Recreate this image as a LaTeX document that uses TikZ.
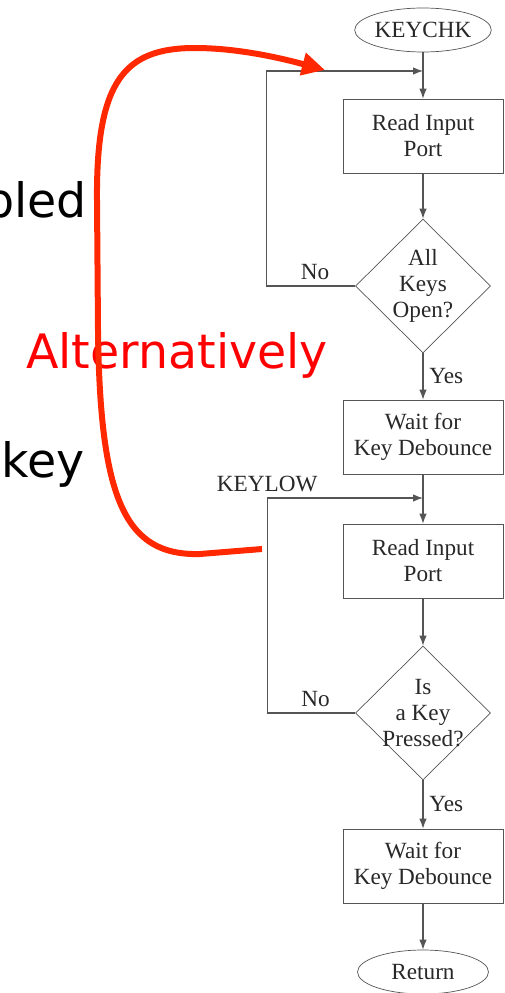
\documentclass[tikz,border=0pt]{standalone}
\usepackage{fontspec}
\setmainfont{Liberation Serif}
\newfontfamily\slidefont{DejaVu Sans}
\usetikzlibrary{shapes.geometric,arrows.meta}
\definecolor{altred}{RGB}{255,40,0}
\definecolor{flowgray}{RGB}{85,85,85}
\definecolor{flowtext}{RGB}{40,40,40}

\begin{document}
\begin{tikzpicture}[x=0.02cm,y=-0.02cm,
			flowfont/.style={text=flowtext, font=\fontsize{13.2}{14.8}\selectfont},
			flowbox/.style={draw=flowgray, flowfont, align=center, minimum width=3.2cm, minimum height=1.48cm, inner sep=0pt},
			terminal/.style={ellipse, draw=flowgray, flowfont, minimum width=2.62cm, minimum height=0.88cm, inner sep=0pt},
			decision/.style={diamond, draw=flowgray, minimum width=2.7cm, minimum height=2.68cm, inner sep=0pt},
			flowlbl/.style={flowfont, align=center},
			flowarrow/.style={draw=flowgray, line width=0.6pt, -{Latex[length=2mm,width=1.5mm]}},
			slide/.style={font=\slidefont\fontsize{27}{32}\selectfont, inner sep=0pt},
			altarrow/.style={draw=altred, line width=1.2mm, -{Triangle[length=4.6mm,width=4.4mm]}}
		]
		\useasboundingbox (0,0) rectangle (504,993);
		\clip (0,0) rectangle (504,993);

		\node[terminal] (keychk) at (423,30) {KEYCHK};
		\node[flowbox] (read1) at (423,136) {Read Input\\Port};
		\node[decision, label={[flowlbl]center:All\\Keys\\Open?}] (allopen) at (423,286) {};
		\node[flowbox] (wait1) at (423,437) {Wait for\\Key Debounce};
		\node[flowbox] (read2) at (423,561) {Read Input\\Port};
		\node[decision, label={[flowlbl]center:Is\\a Key\\Pressed?}] (pressed) at (423,713) {};
		\node[flowbox] (wait2) at (423,866) {Wait for\\Key Debounce};
		\node[terminal] (return) at (423,972) {Return};

		\coordinate (loop1) at (423,71);
		\coordinate (loop2) at (423,498);

		\draw[flowarrow] (keychk) -- (read1);
		\draw[flowarrow] (read1) -- (allopen);
		\draw[flowarrow] (allopen) -- node[flowlbl, right] {Yes} (wait1);
		\draw[flowarrow] (allopen.west) -- node[flowlbl, above, pos=0.45] {No} ++(-89,0) |- (loop1);
		\draw[flowarrow] (wait1) -- (read2);
		\draw[flowarrow] (read2) -- (pressed);
		\draw[flowarrow] (pressed) -- node[flowlbl, right] {Yes} (wait2);
		\draw[flowarrow] (pressed.west) -- node[flowlbl, above, pos=0.45] {No} ++(-88,0) |- node[flowlbl, above, pos=0.5] {KEYLOW} (loop2);
		\draw[flowarrow] (wait2) -- (return);

		\node[slide, anchor=base east] (bled) at (87,217) {bled};
		\node[slide, anchor=base east] (key) at (85,477) {key};
		\node[slide, text=red, anchor=base west] (alt) at (26,368) {Alternatively};

		\coordinate (altstart) at (262,549);
		\coordinate (alttip) at (325,70);
		\draw[altarrow] (altstart) -- (200,554) .. controls (125,556) and (100,500) .. (98,330) -- (97,200) .. controls (96,80) and (125,48) .. (195,48) .. controls (245,48) and (295,62) .. (alttip);

	\end{tikzpicture}
\end{document}
